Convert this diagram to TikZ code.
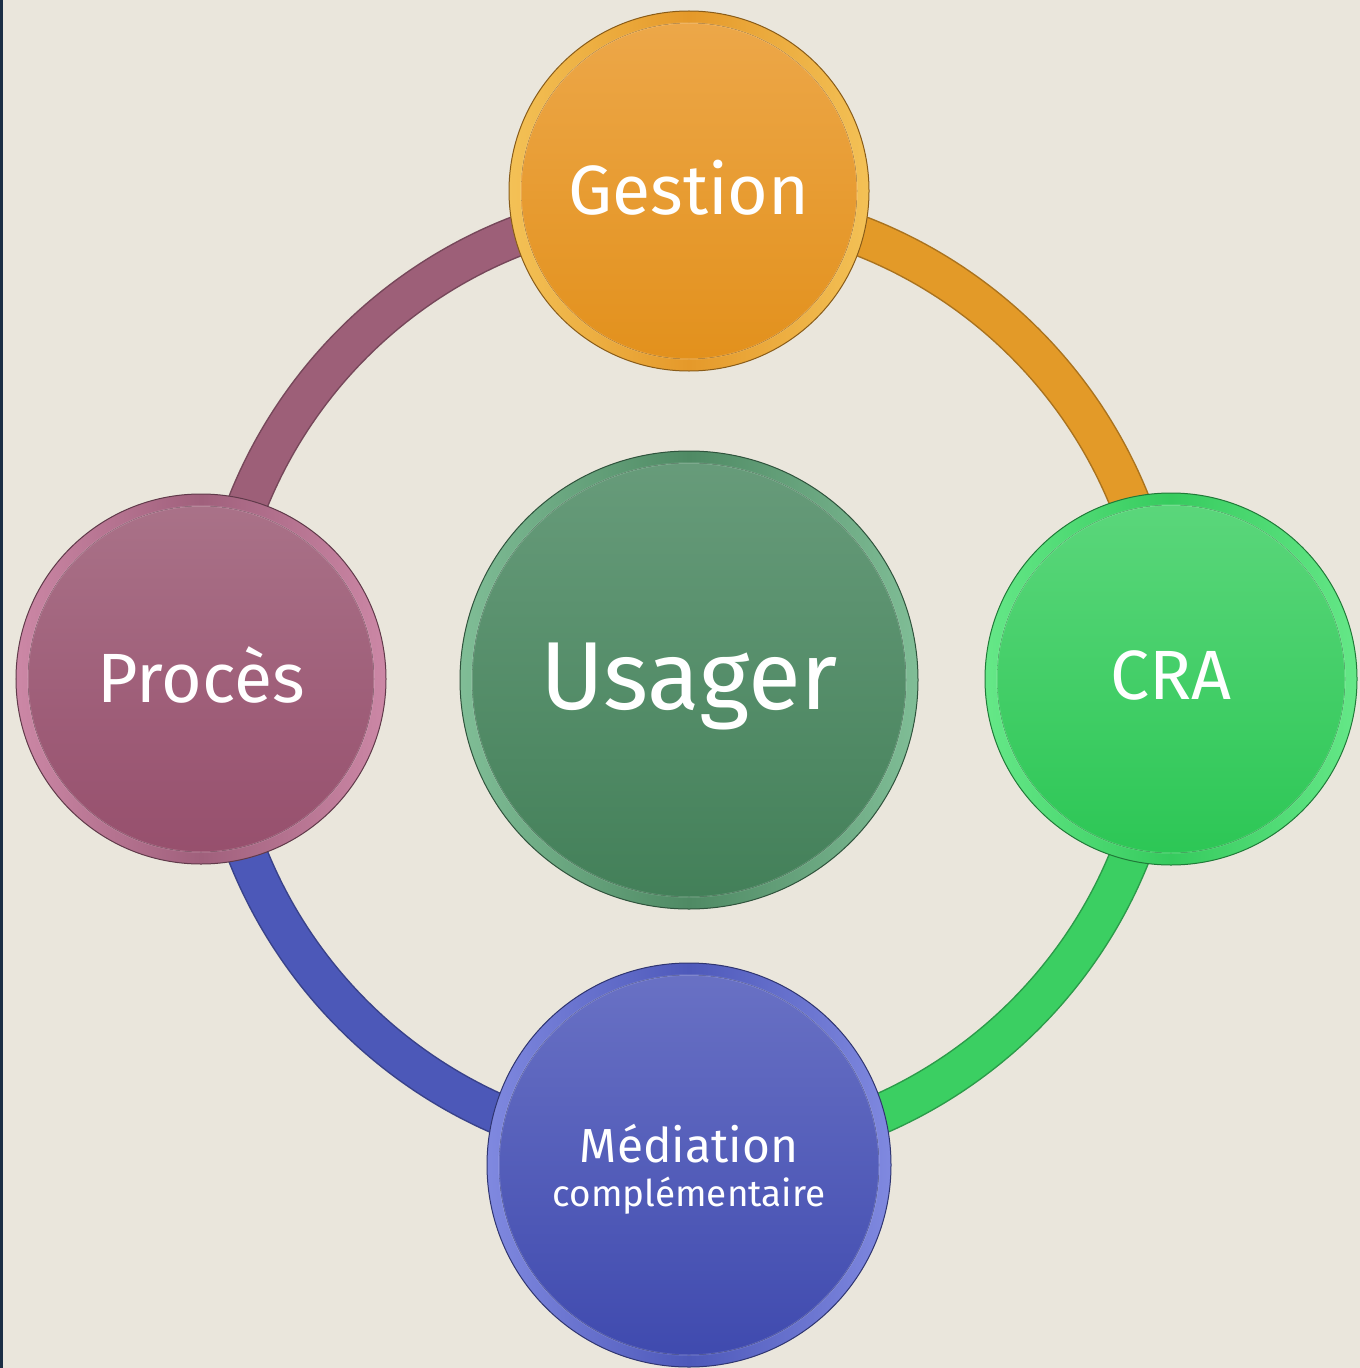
\documentclass[tikz,border=0pt]{standalone}
\usepackage{fontspec}
\setmainfont{Fira Sans}
\definecolor{bgc}{HTML}{EAE6DC}
\definecolor{navyc}{HTML}{1B2E45}
\definecolor{gestTop}{HTML}{EDA84A}\definecolor{gestBot}{HTML}{E2901B}
\definecolor{gestRim}{HTML}{FFE27A}\definecolor{gestBase}{HTML}{E5992A}
\definecolor{procTop}{HTML}{AA7389}\definecolor{procBot}{HTML}{964E6C}
\definecolor{procRim}{HTML}{F0A8C8}\definecolor{procBase}{HTML}{A0607C}
\definecolor{craTop}{HTML}{5CD77C}\definecolor{craBot}{HTML}{2BC654}
\definecolor{craRim}{HTML}{8CFFAA}\definecolor{craBase}{HTML}{36CB5E}
\definecolor{medTop}{HTML}{6A72C5}\definecolor{medBot}{HTML}{3E49AE}
\definecolor{medRim}{HTML}{A8B0FF}\definecolor{medBase}{HTML}{4E59BA}
\definecolor{usaTop}{HTML}{689C7B}\definecolor{usaBot}{HTML}{427F58}
\definecolor{usaRim}{HTML}{A8E8C0}\definecolor{usaBase}{HTML}{4F8A64}
\definecolor{ringMauve}{HTML}{9D5F78}
\definecolor{ringOrange}{HTML}{E39A28}
\definecolor{ringGreen}{HTML}{3BCF62}
\definecolor{ringBlue}{HTML}{4C58B8}
\tikzset{
  bubble/.style n args={5}{circle, inner sep=0pt, minimum size=2*#1,
    draw=#5!60!black, line width=1bp,
    left color=#4!55!#5, right color=#4!55!#5, middle color=#5,
    text=white, text depth=8bp, align=center,
    path picture={
      \fill[top color=#2, bottom color=#3] (path picture bounding box.center) circle[radius=#1-12bp];
      \draw[white, opacity=.15, line width=1.5bp] (path picture bounding box.center) circle[radius=#1-12bp];
    }},
  ringedge/.style={line width=41bp, draw=#1!75!black},
  ringfill/.style={line width=38bp, draw=#1},
}
\newcommand\ringarc[3]{%
  \draw[ringedge=#1] (ctr) ++(#2:475bp) arc[start angle=#2, end angle=#3, radius=475bp];
  \draw[ringfill=#1] (ctr) ++(#2:475bp) arc[start angle=#2, end angle=#3, radius=475bp];}
\begin{document}
\begin{tikzpicture}[x=1bp, y=-1bp]
  \useasboundingbox (0,0) rectangle (1360,1368);
  \fill[bgc] (0,0) rectangle (1360,1368);
  \fill[navyc] (0,0) rectangle (3,1368);
  \clip (0,0) rectangle (1360,1368);
  \coordinate (ctr) at (689,679);
  \ringarc{ringOrange}{0}{90}
  \ringarc{ringMauve}{90}{180}
  \ringarc{ringBlue}{180}{270}
  \ringarc{ringGreen}{270}{360}
  \node[bubble={180bp}{gestTop}{gestBot}{gestRim}{gestBase}, font=\fontsize{70}{80}\selectfont] (gest) at (689,191) {Gestion};
  \node[bubble={185bp}{procTop}{procBot}{procRim}{procBase}, font=\fontsize{70}{80}\selectfont] (proc) at (201,679) {Procès};
  \node[bubble={186bp}{craTop}{craBot}{craRim}{craBase}, font=\fontsize{70}{80}\selectfont] (cra) at (1171,679) {CRA};
  \node[bubble={202bp}{medTop}{medBot}{medRim}{medBase}, text depth=0pt] (med) at (689,1165)
    {\fontsize{48}{43}\selectfont Médiation\\[13bp]\fontsize{37}{43}\selectfont complémentaire};
  \node[bubble={229bp}{usaTop}{usaBot}{usaRim}{usaBase}, font=\fontsize{97}{110}\selectfont] (usa) at (689,680) {Usager};
\end{tikzpicture}
\end{document}
